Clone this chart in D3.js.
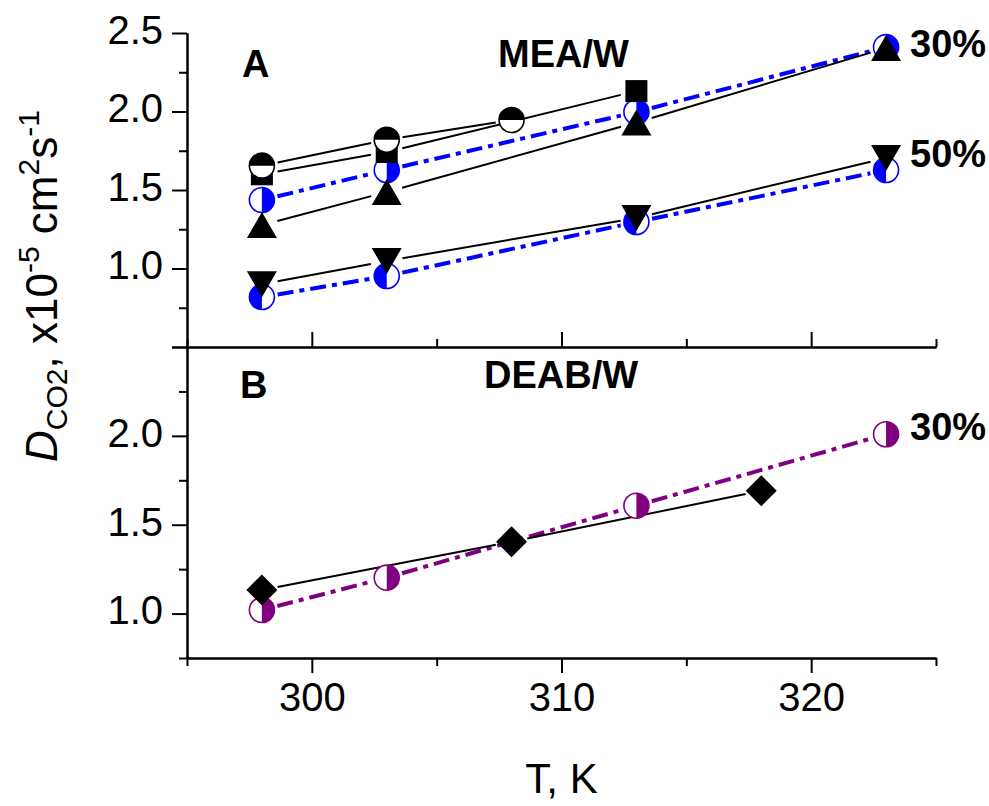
<!DOCTYPE html>
<html>
<head>
<meta charset="utf-8">
<script src="https://cdn.jsdelivr.net/npm/d3@7"></script>
<style>
  body { margin: 0; background: #fff; }
  svg { display: block; }
  text { font-family: "Liberation Sans", Arial, Helvetica, sans-serif; fill: #000; }
</style>
</head>
<body>
<svg id="chart" width="989" height="806"></svg>
<script>
// ---- Data: CO2 diffusion coefficient, x10^-5 cm^2 s^-1, vs temperature (K) ----
// Panel A: MEA/W
const tMeaCircle = [298, 303, 308];
const meaCircle  = [1.655, 1.82, 1.946];
const tMeaSquare = [298, 303, 313];
const meaSquare  = [1.60, 1.742, 2.13];
const tMeaUp     = [298, 303, 313, 323];
const meaUp      = [1.277, 1.487, 1.93, 2.404];
const tMeaDown   = [298, 303, 313, 323];
const meaDown    = [0.90, 1.048, 1.322, 1.704];
const tMea30     = [298, 303, 313, 323];
const mea30      = [1.436, 1.627, 1.997, 2.41];
const tMea50     = [298, 303, 313, 323];
const mea50      = [0.818, 0.952, 1.296, 1.627];
// Panel B: DEAB/W
const tDeabDiamond = [298, 308, 318];
const deabDiamond  = [1.133, 1.404, 1.691];
const tDeab30      = [298, 303, 313, 323];
const deab30       = [1.02, 1.202, 1.607, 2.009];

// Axis ticks
const xMajor = [300, 310, 320];
const xMinor = [295, 305, 315, 325];
const yMajorA = [0.5, 1.0, 1.5, 2.0, 2.5];
const yMinorA = [0.75, 1.25, 1.75, 2.25];
const yMajorB = [1.0, 1.5, 2.0, 2.5];
const yMinorB = [0.75, 1.25, 1.75, 2.25];
const yLabelsA = [1.0, 1.5, 2.0, 2.5];
const yLabelsB = [1.0, 1.5, 2.0];

const BLUE = "#0000ff", PURPLE = "#800080";

const svg = d3.select("#chart");

const x  = d3.scaleLinear().domain([295, 325]).range([187, 936]);
const yA = d3.scaleLinear().domain([0.5, 2.5]).range([347, 33]);
const yB = d3.scaleLinear().domain([0.75, 2.5]).range([658, 347]);

const fmt = d3.format(".1f");

function styleAxis(g) {
  g.selectAll("path.domain").attr("stroke", "#000").attr("stroke-width", 2);
  g.selectAll(".tick line").attr("stroke", "#000").attr("stroke-width", 2);
  g.selectAll(".tick text").attr("font-size", 40).attr("fill", "#000")
    .style("font-family", '"Liberation Sans", Arial, sans-serif');
}

// ---- Left axes ----
function leftAxis(scale, major, minor, labels) {
  const g = svg.append("g").attr("transform", "translate(187,0)");
  g.append("g").call(d3.axisLeft(scale).tickValues(minor).tickSize(8).tickSizeOuter(0).tickFormat(""))
    .call(styleAxis);
  g.append("g").call(d3.axisLeft(scale).tickValues(major).tickSize(15).tickSizeOuter(0).tickPadding(9)
      .tickFormat(d => labels.includes(d) ? fmt(d) : ""))
    .call(styleAxis)
    .selectAll(".tick text").attr("dy", "0.26em");
}
leftAxis(yA, yMajorA, yMinorA, yLabelsA);
leftAxis(yB, yMajorB, yMinorB, yLabelsB);

// ---- Middle axis (between panels), ticks pointing up ----
const mid = svg.append("g").attr("transform", "translate(0,347)");
mid.append("g").call(d3.axisTop(x).tickValues(xMinor).tickSize(8).tickSizeOuter(0).tickFormat("")).call(styleAxis);
mid.append("g").call(d3.axisTop(x).tickValues(xMajor).tickSize(15).tickSizeOuter(0).tickFormat("")).call(styleAxis);

// ---- Bottom axis ----
const bot = svg.append("g").attr("transform", "translate(0,658)");
bot.append("g").call(d3.axisBottom(x).tickValues(xMinor).tickSize(8).tickSizeOuter(0).tickFormat("")).call(styleAxis);
bot.append("g").call(d3.axisBottom(x).tickValues(xMajor).tickSize(15).tickSizeOuter(0).tickPadding(10)
    .tickFormat(d3.format("d"))).call(styleAxis);

// ---- Axis titles ----
svg.append("text")
  .attr("x", x(310)).attr("y", 793)
  .attr("text-anchor", "middle").attr("font-size", 42)
  .text("T, K");

const yt = svg.append("text")
  .attr("transform", "translate(57,286) rotate(-90)")
  .attr("text-anchor", "middle").attr("font-size", 44);
yt.append("tspan").attr("font-style", "italic").text("D");
yt.append("tspan").attr("font-size", 30).attr("dy", 10).text("CO2");
yt.append("tspan").attr("dy", -10).text(", x10");
yt.append("tspan").attr("font-size", 30).attr("dy", -18).text("-5");
yt.append("tspan").attr("dy", 18).text(" cm");
yt.append("tspan").attr("font-size", 30).attr("dy", -18).text("2");
yt.append("tspan").attr("dy", 18).text("s");
yt.append("tspan").attr("font-size", 30).attr("dy", -18).text("-1");

// ---- Panel annotations ----
const notes = [
  { t: "A", x: 242, y: 77 },
  { t: "MEA/W", x: 498, y: 67 },
  { t: "30%", x: 910, y: 57 },
  { t: "50%", x: 910, y: 167 },
  { t: "B", x: 240, y: 398 },
  { t: "DEAB/W", x: 484, y: 388 },
  { t: "30%", x: 910, y: 440 }
];
svg.append("g").selectAll("text").data(notes).join("text")
  .attr("x", d => d.x).attr("y", d => d.y)
  .attr("font-size", 38).attr("font-weight", "bold")
  .text(d => d.t);

// ---- Connecting lines, stopped short of each symbol ----
const GAP = 16;
function drawLine(ts, vs, yScale, stroke, width, dash) {
  const pts = ts.map((t, i) => [x(t), yScale(vs[i])]);
  const segs = d3.pairs(pts).map(([a, b]) => {
    const dx = b[0] - a[0], dy = b[1] - a[1];
    const len = Math.hypot(dx, dy);
    const ux = dx / len, uy = dy / len;
    return [[a[0] + ux * GAP, a[1] + uy * GAP], [b[0] - ux * GAP, b[1] - uy * GAP]];
  });
  svg.append("g").selectAll("path").data(segs).join("path")
    .attr("d", d => d3.line()(d))
    .attr("fill", "none")
    .attr("stroke", stroke)
    .attr("stroke-width", width)
    .attr("stroke-dasharray", dash || null);
}
const DASHDOT = "16,6,5,6";

drawLine(tMea30, mea30, yA, BLUE, 4, DASHDOT);
drawLine(tMea50, mea50, yA, BLUE, 4, DASHDOT);
drawLine(tMeaSquare, meaSquare, yA, "#000", 2);
drawLine(tMeaCircle, meaCircle, yA, "#000", 2);
drawLine(tMeaUp, meaUp, yA, "#000", 2);
drawLine(tMeaDown, meaDown, yA, "#000", 2);

drawLine(tDeab30, deab30, yB, PURPLE, 4, DASHDOT);
drawLine(tDeabDiamond, deabDiamond, yB, "#000", 2);

// ---- Symbols ----
const R = 12.5;
function halfPath(cx, cy, side) {
  if (side === "top")   return `M${cx - R},${cy} A${R},${R} 0 0 1 ${cx + R},${cy} Z`;
  if (side === "right") return `M${cx},${cy - R} A${R},${R} 0 0 1 ${cx},${cy + R} Z`;
  return `M${cx},${cy - R} A${R},${R} 0 0 0 ${cx},${cy + R} Z`;
}
function halfCircles(ts, vs, yScale, color, side) {
  const g = svg.append("g");
  const pts = ts.map((t, i) => ({ cx: x(t), cy: yScale(vs[i]) }));
  const s = g.selectAll("g").data(pts).join("g");
  s.append("circle").attr("cx", d => d.cx).attr("cy", d => d.cy).attr("r", R)
    .attr("fill", "#fff").attr("stroke", color).attr("stroke-width", 1.6);
  s.append("path").attr("d", d => halfPath(d.cx, d.cy, side)).attr("fill", color);
}
function shapes(ts, vs, yScale, pathFn) {
  svg.append("g").selectAll("path").data(ts.map((t, i) => [x(t), yScale(vs[i])])).join("path")
    .attr("d", d => pathFn(d[0], d[1])).attr("fill", "#000");
}
const square  = (cx, cy) => `M${cx - 11},${cy - 11}h22v22h-22Z`;
const triUp   = (cx, cy) => `M${cx},${cy - 13}L${cx + 15},${cy + 13}L${cx - 15},${cy + 13}Z`;
const triDown = (cx, cy) => `M${cx - 15},${cy - 13}L${cx + 15},${cy - 13}L${cx},${cy + 13}Z`;
const diamond = (cx, cy) => `M${cx},${cy - 15.5}L${cx + 15.5},${cy}L${cx},${cy + 15.5}L${cx - 15.5},${cy}Z`;

halfCircles(tMea30, mea30, yA, BLUE, "right");
halfCircles(tMea50, mea50, yA, BLUE, "left");
shapes(tMeaSquare, meaSquare, yA, square);
halfCircles(tMeaCircle, meaCircle, yA, "#000", "top");
shapes(tMeaUp, meaUp, yA, triUp);
shapes(tMeaDown, meaDown, yA, triDown);

halfCircles(tDeab30, deab30, yB, PURPLE, "right");
shapes(tDeabDiamond, deabDiamond, yB, diamond);
</script>
</body>
</html>
